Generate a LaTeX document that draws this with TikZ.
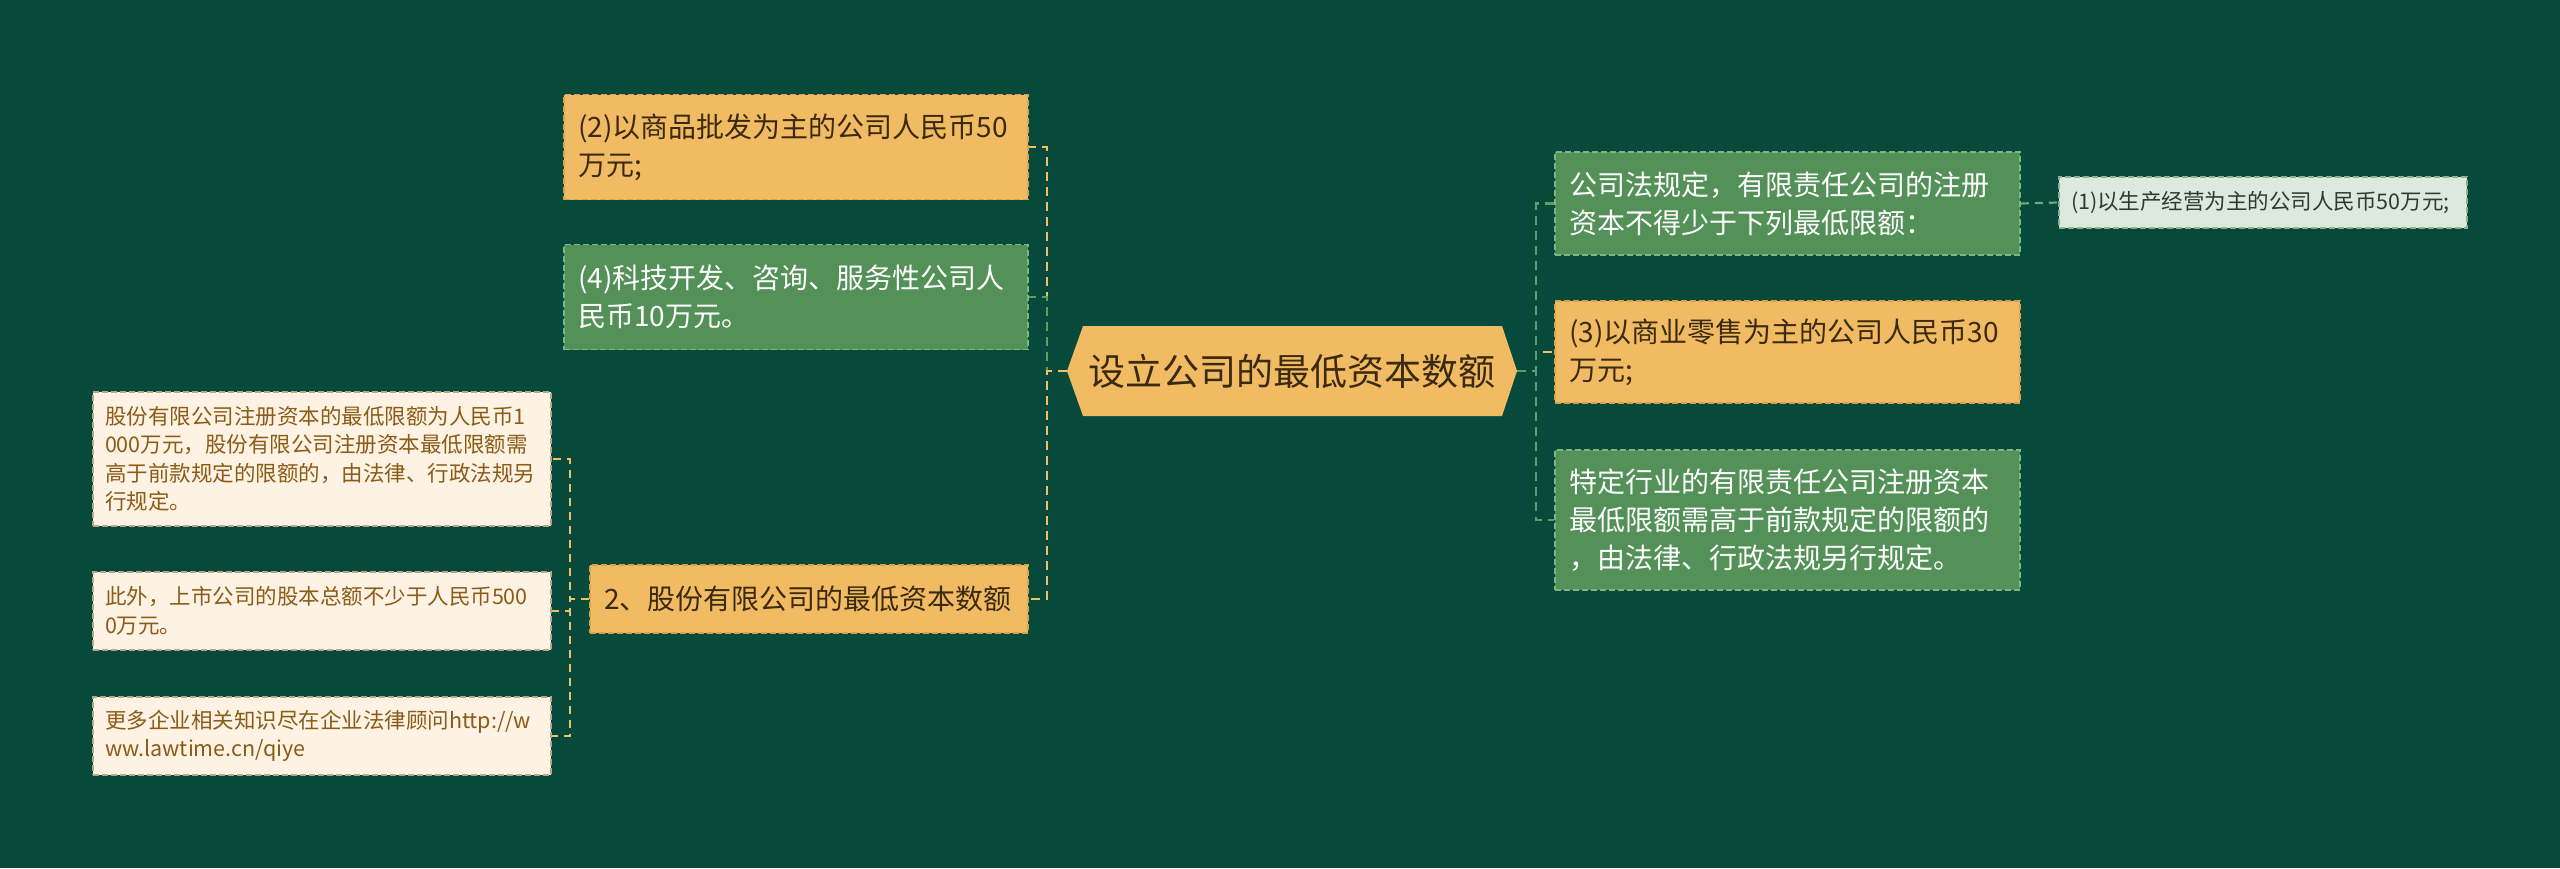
\documentclass[tikz,border=0pt]{standalone}
\usepackage{fontspec}
\setmainfont{Noto Sans CJK SC}
\definecolor{bgc}{HTML}{07493A}
\definecolor{yfill}{HTML}{F0BB62}
\definecolor{yborder}{HTML}{D9A24A}
\definecolor{ytext}{HTML}{3B2A0F}
\definecolor{gfill}{HTML}{539159}
\definecolor{gborder}{HTML}{7DB585}
\definecolor{cfill}{HTML}{FDF2E3}
\definecolor{cborder}{HTML}{B9A688}
\definecolor{ctext}{HTML}{8A5C16}
\definecolor{dfill}{HTML}{DCE9DC}
\definecolor{dborder}{HTML}{8FAE94}
\definecolor{dtext}{HTML}{2E3A30}
\definecolor{ylink}{HTML}{EFC164}
\definecolor{glink}{HTML}{5E9E67}
\definecolor{dlink}{HTML}{6FA777}
\tikzset{
  box/.style={rectangle, line width=1.5pt, dash pattern=on 6pt off 3pt, inner xsep=14pt, inner ysep=0pt, align=left},
  ybox/.style={box, fill=yfill, draw=yborder, text=ytext, font=\fontsize{28}{38}\selectfont},
  gbox/.style={box, fill=gfill, draw=gborder, text=white, font=\fontsize{28}{38}\selectfont},
  cbox/.style={box, fill=cfill, draw=cborder, text=ctext, font=\fontsize{21.5}{28.5}\selectfont, inner xsep=12pt},
  dbox/.style={box, fill=dfill, draw=dborder, text=dtext, font=\fontsize{21.5}{28}\selectfont, inner xsep=12pt},
  conn/.style={line width=2.8pt, dash pattern=on 9pt off 6pt},
  yconn/.style={conn, draw=ylink},
  gconn/.style={conn, draw=glink},
  sconn/.style={line width=2.2pt, dash pattern=on 8pt off 6pt, draw=ylink},
  dconn/.style={line width=2.2pt, dash pattern=on 8pt off 6pt, draw=dlink},
}
\begin{document}
\begin{tikzpicture}[x=1pt,y=-1pt]
\useasboundingbox (0,0) rectangle (2560,868);
\fill[bgc] (0,0) rectangle (2560,868);

% central hexagon
\fill[yfill] (1067,371) -- (1083,326) -- (1502,326) -- (1517,371) -- (1502,416) -- (1083,416) -- cycle;
\node[font=\fontsize{37}{44}\selectfont, text=ytext] (ctr) at (1292,371) {设立公司的最低资本数额};
\coordinate (cl) at (1067,371);
\coordinate (cr) at (1517,371);
\coordinate (lj) at (1047,371);
\coordinate (rj) at (1536,371);
\coordinate (sj) at (570,599);

% left branch nodes
\node[ybox, minimum width=464pt, minimum height=105pt, text width=436pt] (b2) at (796,147) {(2)以商品批发为主的公司人民币50\\万元;};
\node[gbox, minimum width=464pt, minimum height=105pt, text width=436pt] (b4) at (796,297) {(4)科技开发、咨询、服务性公司人\\民币10万元。};
\node[ybox, minimum width=438pt, minimum height=68pt, text width=410pt] (s2) at (809,599) {2、股份有限公司的最低资本数额};

% far-left leaves
\node[cbox, minimum width=458pt, minimum height=134pt, text width=434pt] (e) at (322,459) {股份有限公司注册资本的最低限额为人民币1\\000万元，股份有限公司注册资本最低限额需\\高于前款规定的限额的，由法律、行政法规另\\行规定。};
\node[cbox, minimum width=458pt, minimum height=78pt, text width=434pt] (f) at (322,611) {此外，上市公司的股本总额不少于人民币500\\0万元。};
\node[cbox, minimum width=458pt, minimum height=78pt, text width=434pt] (g) at (322,736) {更多企业相关知识尽在企业法律顾问http://w\\ww.lawtime.cn/qiye};

% right branch nodes
\node[gbox, minimum width=465pt, minimum height=103pt, text width=437pt] (a) at (1787.5,203.5) {公司法规定，有限责任公司的注册\\资本不得少于下列最低限额：};
\node[ybox, minimum width=465pt, minimum height=102pt, text width=437pt] (b) at (1787.5,352) {(3)以商业零售为主的公司人民币30\\万元;};
\node[gbox, minimum width=465pt, minimum height=140pt, text width=437pt] (c) at (1787.5,520) {特定行业的有限责任公司注册资本\\最低限额需高于前款规定的限额的\\，由法律、行政法规另行规定。};
\node[dbox, minimum width=408pt, minimum height=51pt, text width=384pt] (d) at (2263,202.5) {(1)以生产经营为主的公司人民币50万元;};

% connectors left
\draw[yconn] (cl) -- (lj) |- (b2.east);
\draw[gconn] (cl) -- (lj) |- (b4.east);
\draw[yconn] (cl) -- (lj) |- (s2.east);
% connectors right
\draw[yconn] (cr) -- (rj) |- (b.west);
\draw[gconn] (cr) -- (rj) |- (a.west);
\draw[gconn] (cr) -- (rj) |- (c.west);
% sub connectors
\draw[sconn] (s2.west) -- (sj) |- (e.east);
\draw[sconn] (s2.west) -- (sj) |- (f.east);
\draw[sconn] (s2.west) -- (sj) |- (g.east);
\draw[dconn] (a.east) -- (d.west);
\end{tikzpicture}
\end{document}
